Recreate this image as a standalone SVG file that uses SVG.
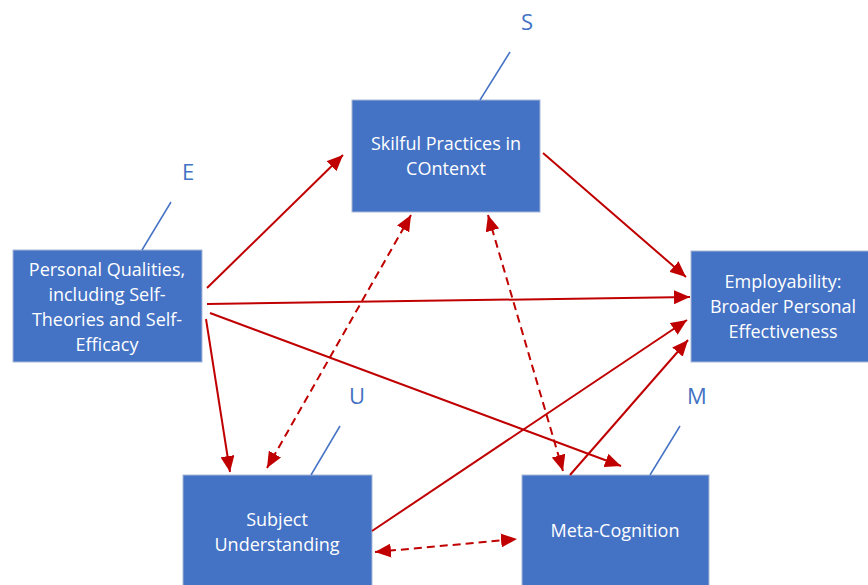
<svg xmlns="http://www.w3.org/2000/svg" width="868" height="585" viewBox="0 0 868 585">
<style>
.box{fill:#4472C4;stroke:#A9B7D6;stroke-width:1}
.t{font-family:"Open Sans","Liberation Sans",sans-serif;font-size:18px;fill:#FFFFFF;text-anchor:middle}
.lbl{font-family:"Open Sans","Liberation Sans",sans-serif;font-size:22px;fill:#4472C4;text-anchor:middle}
.lead{stroke:#4472C4;stroke-width:1.5;fill:none}
.c{stroke:#C00000;stroke-width:2;fill:none}
.d{stroke-dasharray:8,5}
</style>
<defs>
<marker id="ah" markerUnits="userSpaceOnUse" markerWidth="18" markerHeight="14" refX="16" refY="7" orient="auto-start-reverse" viewBox="0 0 18 14">
<path d="M0,0 L16,7 L0,14 Z" fill="#C00000"/>
</marker>
</defs>
<g id="node-S">
<rect class="box" x="352" y="100" width="188" height="112"/>
<text class="t" x="446" y="150">Skilful Practices in</text>
<text class="t" x="446" y="175">COntenxt</text>
<line class="lead" x1="510" y1="52" x2="480" y2="100"/>
<text class="lbl" x="527" y="30">S</text>
</g>
<g id="node-E">
<rect class="box" x="13" y="250" width="189" height="112"/>
<text class="t" x="107" y="276">Personal Qualities,</text>
<text class="t" x="107" y="301">including Self-</text>
<text class="t" x="107" y="326">Theories and Self-</text>
<text class="t" x="107" y="351">Efficacy</text>
<line class="lead" x1="171" y1="202" x2="142" y2="250"/>
<text class="lbl" x="188" y="180">E</text>
</g>
<g id="node-Emp">
<rect class="box" x="691" y="251" width="180" height="111"/>
<text class="t" x="783" y="288">Employability:</text>
<text class="t" x="783" y="313">Broader Personal</text>
<text class="t" x="783" y="338">Effectiveness</text>
</g>
<g id="node-U">
<rect class="box" x="183" y="475" width="189" height="115"/>
<text class="t" x="277" y="526">Subject</text>
<text class="t" x="277" y="551">Understanding</text>
<line class="lead" x1="340" y1="426" x2="311" y2="475"/>
<text class="lbl" x="357" y="404">U</text>
</g>
<g id="node-M">
<rect class="box" x="522" y="475" width="187" height="115"/>
<text class="t" x="615" y="537">Meta-Cognition</text>
<line class="lead" x1="680" y1="426" x2="650" y2="475"/>
<text class="lbl" x="697" y="404">M</text>
</g>
<g id="connectors">
<line class="c" x1="207" y1="288" x2="343" y2="155" marker-end="url(#ah)"/>
<line class="c" x1="207" y1="304" x2="690" y2="297" marker-end="url(#ah)"/>
<line class="c" x1="210" y1="313" x2="621" y2="466" marker-end="url(#ah)"/>
<line class="c" x1="206" y1="319" x2="230" y2="472" marker-end="url(#ah)"/>
<line class="c" x1="543" y1="153" x2="686" y2="277" marker-end="url(#ah)"/>
<line class="c" x1="372" y1="531" x2="687" y2="320" marker-end="url(#ah)"/>
<line class="c" x1="570" y1="475" x2="688" y2="340" marker-end="url(#ah)"/>
<line class="c d" x1="411" y1="215" x2="267" y2="468" marker-start="url(#ah)" marker-end="url(#ah)"/>
<line class="c d" x1="488" y1="215" x2="563" y2="471" marker-start="url(#ah)" marker-end="url(#ah)"/>
<line class="c d" x1="375" y1="552" x2="517" y2="539" marker-start="url(#ah)" marker-end="url(#ah)"/>
</g>
</svg>
